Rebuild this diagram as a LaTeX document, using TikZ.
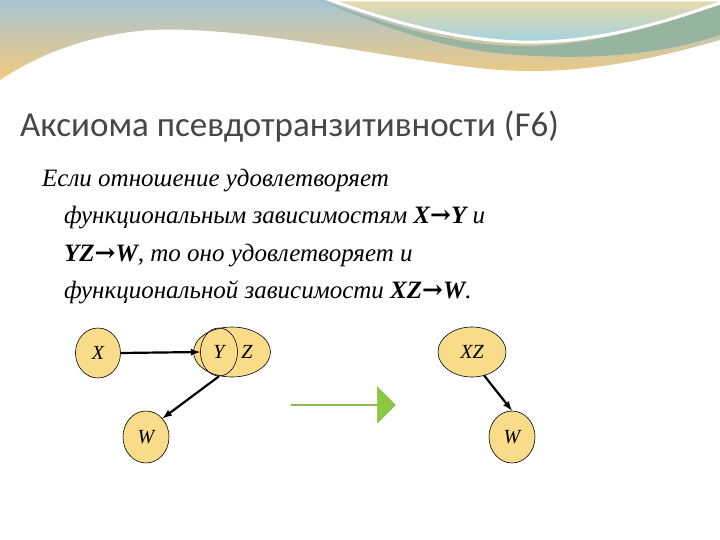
\documentclass[tikz,border=0pt]{standalone}
\usepackage{fontspec}
\setmainfont{Liberation Serif}
\newfontfamily\titlefont{Carlito}
\newfontfamily\arrfont{DejaVu Serif}
\usetikzlibrary{shapes.geometric,shapes.arrows,calc}
\definecolor{nodefill}{HTML}{F9DC8A}
\definecolor{grn}{HTML}{8DC63F}
\definecolor{grnb}{HTML}{78AA32}
\definecolor{topblue}{RGB}{168,196,212}
\definecolor{topyel}{RGB}{242,202,125}
\definecolor{band}{RGB}{150,180,160}
\definecolor{lenstop}{RGB}{232,218,170}
\definecolor{lensbot}{RGB}{160,210,225}
\definecolor{titlecol}{RGB}{70,70,75}
\begin{document}
\begin{tikzpicture}[x=1pt,y=-1pt,
  ell/.style={ellipse,draw=black,fill=nodefill,line width=0.6pt,inner sep=0pt,font=\itshape\fontsize{20}{20}\selectfont},
  arr/.style={-latex,line width=2.2pt},
  body/.style={anchor=base west,inner sep=0pt,font=\itshape\fontsize{25}{25}\selectfont}]
\useasboundingbox (0,0) rectangle (720,540);
\fill[white] (0,0) rectangle (720,540);
% top decoration
\begin{scope}
\clip (0,0) -- (720,0) -- (720,40) .. controls (650,60) and (580,75) .. (500,70)
  .. controls (400,62) and (250,25) .. (150,30) .. controls (80,35) and (30,60) .. (0,80) -- cycle;
\shade[top color=topblue, bottom color=topyel] (0,0) rectangle (720,80);
\end{scope}
\fill[band] (320,0) .. controls (400,30) and (460,45) .. (520,46)
  .. controls (600,47) and (670,20) .. (720,5) -- (720,35) .. controls (660,55) and (590,60) .. (520,55)
  .. controls (460,52) and (400,35) .. (320,0) -- cycle;
\shade[top color=lenstop, bottom color=lensbot,draw=white,line width=3pt]
  (330,0) .. controls (400,25) and (460,40) .. (520,42) .. controls (600,44) and (670,20) .. (720,3) -- (720,0) -- cycle;
% title
\node[anchor=base west,inner sep=0pt,text=titlecol,font=\titlefont\fontsize{35}{35}\selectfont] (title) at (20,137) {Аксиома псевдотранзитивности (F6)};
% body
\node[body] (l1) at (42,187) {Если отношение удовлетворяет};
\node[body] (l2) at (64,224) {функциональным зависимостям \textbf{X}{\arrfont\bfseries\upshape →}\textbf{Y} и};
\node[body] (l3) at (64,261) {\textbf{YZ}{\arrfont\bfseries\upshape →}\textbf{W}, то оно удовлетворяет и};
\node[body] (l4) at (64,298) {функциональной зависимости \textbf{XZ}{\arrfont\bfseries\upshape →}\textbf{W}.};
% left diagram
\node[ell,minimum width=45pt,minimum height=50pt] (x) at (98,353) {X};
\node[ell,minimum width=77pt,minimum height=50pt] (yz) at (232,352) {};
\node[ell,fill=none,minimum width=37pt,minimum height=48pt] (y) at (219,352) {Y};
\node[font=\itshape\fontsize{20}{20}\selectfont] (z) at (247,352) {Z};
\node[ell,minimum width=46pt,minimum height=52pt] (w) at (146,437) {W};
\draw[arr] (x.east) -- (y.west);
\draw[arr] (y.south) -- (w.north east);
% green arrow
\node[single arrow,fill=grn,draw=grnb,minimum height=104pt,minimum width=36pt,single arrow head extend=6pt,inner sep=0pt,single arrow head indent=0pt] (g) at (343,405) {};
% right diagram
\node[ell,minimum width=68pt,minimum height=50pt] (xz) at (472,352) {XZ};
\node[ell,minimum width=46pt,minimum height=52pt] (w2) at (512,437) {W};
\coordinate (s) at ($(xz.south)+(12,-2)$);
\draw[arr] (s) -- (w2.north);
\end{tikzpicture}
\end{document}
